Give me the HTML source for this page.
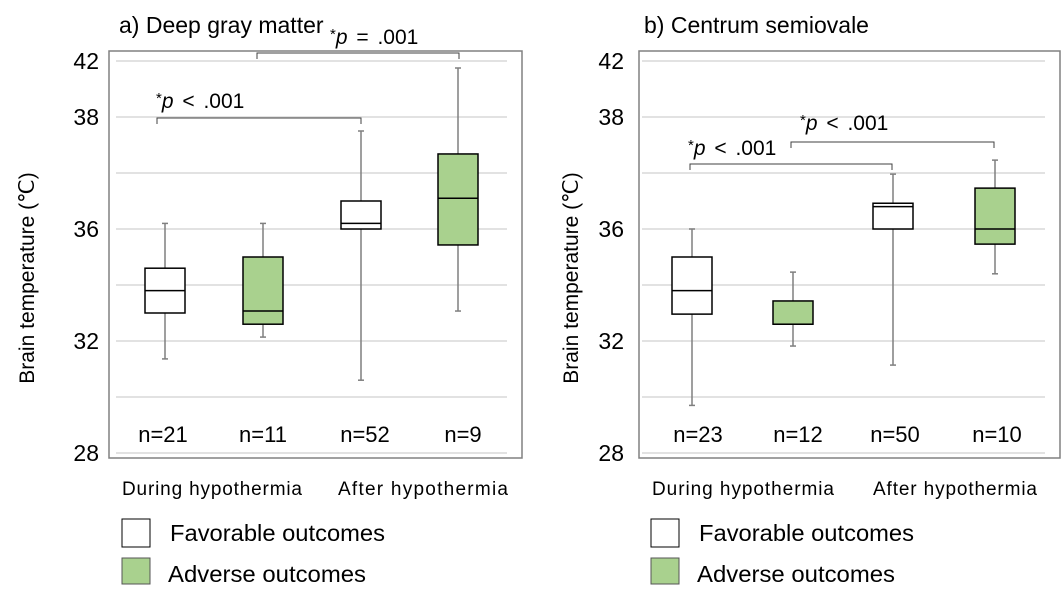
<!DOCTYPE html>
<html><head><meta charset="utf-8"><style>
body{margin:0;background:#fff;}
svg{display:block;font-family:"Liberation Sans",Arial,sans-serif;}
</style></head><body>
<svg id="chart" width="1062" height="602" viewBox="0 0 1062 602"></svg>
<script>
const categories = ["During favorable","During adverse","After favorable","After adverse"];
const outcomes = ["favorable","adverse","favorable","adverse"];
const panelTitles = ["a) Deep gray matter","b) Centrum semiovale"];
const gmMin = [31.36,32.14,30.6,33.07];
const gmQ1 = [33.0,32.6,36.0,35.43];
const gmMed = [33.8,33.07,36.1,36.55];
const gmQ3 = [34.6,35.0,36.5,37.34];
const gmMax = [36.1,36.1,37.75,41.5];
const gmN = ["n=21","n=11","n=52","n=9"];
const csMin = [29.7,31.82,31.14,34.4];
const csQ1 = [32.96,32.6,36.0,35.46];
const csMed = [33.8,32.6,36.4,36.0];
const csQ3 = [35.0,33.43,36.46,36.73];
const csMax = [36.0,34.46,36.98,37.23];
const csN = ["n=23","n=12","n=50","n=10"];
const tickLabels = [28,32,36,38,42];
const tickGrid = [0,2,4,6,7];

const NS="http://www.w3.org/2000/svg";
const svg=document.getElementById('chart');
function mk(tag,attrs,parent){const e=document.createElementNS(NS,tag);for(const k in attrs)e.setAttribute(k,attrs[k]);(parent||svg).appendChild(e);return e;}
function yScale(t){
  let u;
  for(let i=0;i<tickLabels.length-1;i++){
    if(t<=tickLabels[i+1]||i===tickLabels.length-2){
      u=tickGrid[i]+(t-tickLabels[i])/(tickLabels[i+1]-tickLabels[i])*(tickGrid[i+1]-tickGrid[i]);break;}
  }
  return 453-u*56;
}
const panels=[
 {fx:109,fw:413,gx1:116,gx2:507,cx:[165,263,361,458],lab:99,yt:27,tx:119,
  d:[gmMin,gmQ1,gmMed,gmQ3,gmMax],n:gmN,nx:[163,263,365,463],
  br:[{x1:157,x2:361,y:118,tx:156,ty:108,t:"< .001"},{x1:257,x2:459,y:53,tx:330,ty:44,t:"= .001"}],
  cat:[122,338],catw:[180,170],leg:122},
 {fx:639,fw:421,gx1:642,gx2:1045,cx:[692,793,893,995],lab:624,yt:571,tx:644,
  d:[csMin,csQ1,csMed,csQ3,csMax],n:csN,nx:[698,798,895,997],
  br:[{x1:690,x2:892,y:164,tx:688,ty:155,t:"< .001"},{x1:791,x2:994,y:142,tx:800,ty:130,t:"< .001"}],
  cat:[652,873],catw:[182,164],leg:651}
];
panels.forEach((p,pi)=>{
  const g=mk('g',{});
  
  
  for(let i=0;i<8;i++){const y=453-i*56;const l=mk('line',{x1:p.gx1,x2:p.gx2,y1:y,y2:y,stroke:'#d9d9d9','stroke-width':1.5},g);
    }
  const fr=mk('rect',{x:p.fx,y:51,width:p.fw,height:407,fill:'none',stroke:'#808080','stroke-width':1.5},g);
  
  tickLabels.forEach(v=>{const t=mk('text',{x:p.lab,y:yScale(v)+8,'text-anchor':'end','font-size':23,fill:'#000'},g);t.textContent=v;
    });
  const yt=mk('text',{x:0,y:0,transform:`translate(${p.yt+7},278) rotate(-90)`,'text-anchor':'middle','font-size':21},g);
  yt.textContent='Brain temperature (℃)';
  
  const tt=mk('text',{x:p.tx,y:33,'font-size':23},g);tt.textContent=panelTitles[pi];
  
  categories.forEach((c,i)=>{
    const cx=p.cx[i],hw=20;
    const [mn,q1,md,q3,mx]=p.d.map(a=>a[i]);
    const bg=mk('g',{},g);
    
    mk('line',{x1:cx,x2:cx,y1:yScale(mx),y2:yScale(q3),stroke:'#7f7f7f','stroke-width':1.5},bg);
    mk('line',{x1:cx,x2:cx,y1:yScale(q1),y2:yScale(mn),stroke:'#7f7f7f','stroke-width':1.5},bg);
    mk('line',{x1:cx-3,x2:cx+3,y1:yScale(mx),y2:yScale(mx),stroke:'#7f7f7f','stroke-width':1.5},bg);
    mk('line',{x1:cx-3,x2:cx+3,y1:yScale(mn),y2:yScale(mn),stroke:'#7f7f7f','stroke-width':1.5},bg);
    mk('rect',{x:cx-hw,y:yScale(q3),width:2*hw,height:yScale(q1)-yScale(q3),fill:outcomes[i]==='adverse'?'#a9d18e':'#fff',stroke:'#000','stroke-width':1.5},bg);
    mk('line',{x1:cx-hw,x2:cx+hw,y1:yScale(md),y2:yScale(md),stroke:'#000','stroke-width':1.5},bg);
    const nt=mk('text',{x:p.nx[i],y:442,'text-anchor':'middle','font-size':22},g);nt.textContent=p.n[i];
    
  });
  p.br.forEach(b=>{
    const pth=mk('path',{d:`M${b.x1},${b.y+6}V${b.y}H${b.x2}V${b.y+6}`,fill:'none',stroke:'#404040','stroke-width':1},g);
    
    const t=mk('text',{x:b.tx,y:b.ty,'font-size':21,'word-spacing':3},g);
    t.innerHTML='<tspan font-size="15" dy="-5">*</tspan><tspan font-style="italic" dy="5">p</tspan> '+b.t;
    
  });
  const c1=mk('text',{x:p.cat[0],y:495,'font-size':19,textLength:p.catw[0],lengthAdjust:'spacing'},g);c1.textContent='During hypothermia';
  
  const c2=mk('text',{x:p.cat[1],y:495,'font-size':19,textLength:p.catw[1],lengthAdjust:'spacing'},g);c2.textContent='After hypothermia';
  
  const l1=mk('rect',{x:p.leg,y:519,width:28,height:28,fill:'#fff',stroke:'#000','stroke-width':1},g);
  
  const lt1=mk('text',{x:p.leg+48,y:541,'font-size':23,textLength:215,lengthAdjust:'spacingAndGlyphs'},g);lt1.textContent='Favorable outcomes';
  
  const l2=mk('rect',{x:p.leg,y:558,width:28,height:26,fill:'#a9d18e',stroke:'#555','stroke-width':1},g);
  
  const lt2=mk('text',{x:p.leg+46,y:582,'font-size':23,textLength:198,lengthAdjust:'spacingAndGlyphs'},g);lt2.textContent='Adverse outcomes';
  
});
</script>
</body></html>
